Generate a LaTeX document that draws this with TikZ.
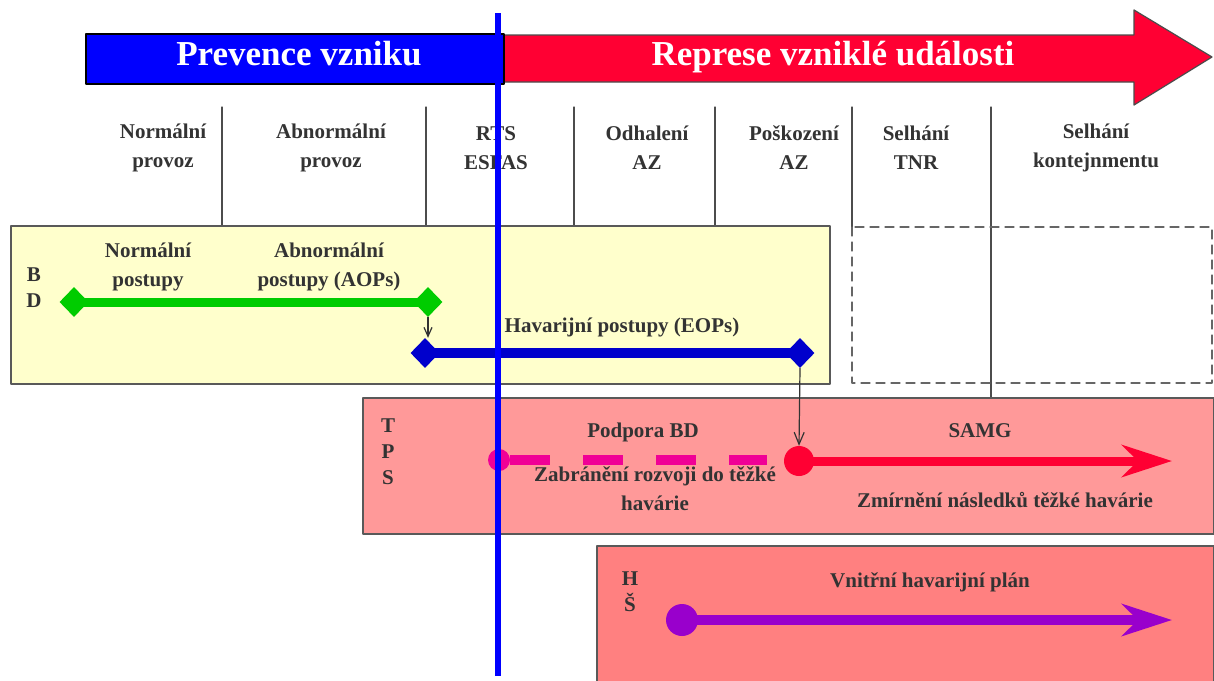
\documentclass[tikz,border=0pt]{standalone}
\usepackage{fontspec}
\setmainfont{Liberation Serif}
\usetikzlibrary{arrows.meta,shapes.geometric}

\definecolor{prevmodra}{RGB}{0,0,255}
\definecolor{represe}{RGB}{255,0,51}
\definecolor{bdzluta}{RGB}{255,255,204}
\definecolor{tpsruzova}{RGB}{255,153,153}
\definecolor{hsruzova}{RGB}{255,128,128}
\definecolor{aopzelena}{RGB}{0,204,0}
\definecolor{eopmodra}{RGB}{0,0,204}
\definecolor{podpora}{RGB}{240,0,150}
\definecolor{hsfialova}{RGB}{153,0,204}

\begin{document}
\begin{tikzpicture}[x=1pt, y=-1pt, line cap=round, line join=round,
    popis/.style={font=\bfseries\fontsize{21}{29}\selectfont, text=black!80, align=center, inner sep=0pt},
    pismena/.style={font=\bfseries\fontsize{21}{26}\selectfont, text=black!80, align=center, inner sep=0pt},
    titulek/.style={font=\bfseries\fontsize{35}{40}\selectfont, text=white, inner sep=0pt, anchor=base},
    pole/.style={draw=black!65, line width=1.5pt, anchor=north west, inner sep=0pt},
    kosoctverec/.style={diamond, fill=#1, inner sep=0pt, minimum width=29pt, minimum height=30pt},
    tecka/.style={circle, fill=#1, inner sep=0pt, minimum size=30pt}]

  \useasboundingbox (0,0) rectangle (1214,680);
  \fill[white] (0,0) rectangle (1214,680);

  % --- HORNI SIPKA: PREVENCE / REPRESE ---
  \draw[fill=represe, draw=black!70, line width=1.2pt]
    (503,35) -- (1134,35) -- (1134,10) -- (1212,57) -- (1134,105) -- (1134,82) -- (503,82) -- cycle;
  \node[pole, draw=black, fill=prevmodra, minimum width=418pt, minimum height=50pt] (prev) at (85,33) {};
  \node[titulek] (prevtext) at (299,65) {Prevence vzniku};
  \node[titulek] (reptext) at (833,65) {Represe vzniklé události};

  % --- SLOUPCE SE STAVY ---
  \foreach \xx in {222,426,574,715}
    \draw[black!70, line width=1.2pt] (\xx,107) -- (\xx,225);
  \draw[black!70, line width=1.2pt] (852,107) -- (852,227);
  \draw[black!70, line width=1.2pt] (991,107) -- (991,397);
  \foreach \xx/\txt [count=\i] in {163/{Normální\\provoz}, 331/{Abnormální\\provoz},
      496/{RTS\\ESFAS}, 647/{Odhalení\\AZ}, 794/{Poškození\\AZ},
      916/{Selhání\\TNR}, 1096/{Selhání\\kontejnmentu}}
    \node[popis] (stav\i) at (\xx,148) {\txt};

  % --- BD: BEZPECNOSTNI DOKUMENTACE ---
  \node[pole, fill=bdzluta, minimum width=819pt, minimum height=158pt] (bd) at (10,225) {};
  \draw[black!60, line width=1.2pt, dashed, dash pattern=on 9pt off 6pt]
    (852,227) rectangle (1212,383);
  \node[pismena] (bdlbl) at (34,288) {B\\D};
  \node[popis] (normtext) at (148,267) {Normální\\postupy};
  \node[popis] (abntext) at (329,267) {Abnormální\\postupy (AOPs)};
  \node[popis, anchor=base] (eoptext) at (622,332) {Havarijní postupy (EOPs)};

  \node[kosoctverec=aopzelena] (aop1) at (74,302) {};
  \node[kosoctverec=aopzelena] (aop2) at (428,302) {};
  \draw[aopzelena, line width=9pt, line cap=butt] (aop1.center) -- (aop2.center);

  \node[kosoctverec=eopmodra] (eop1) at (425,353) {};
  \node[kosoctverec=eopmodra] (eop2) at (800,353) {};
  \draw[eopmodra, line width=10pt, line cap=butt] (eop1.center) -- (eop2.center);

  \draw[black!80, line width=1.2pt, -{Straight Barb[length=9pt, width=8pt]}]
    (aop2.south) -- (aop2.south |- eop1.north);

  % --- TPS ---
  \node[pole, fill=tpsruzova, minimum width=851pt, minimum height=136pt] (tps) at (362,397) {};
  \node[pismena] (tpslbl) at (388,452) {T\\P\\S};
  \node[popis, anchor=base] (podtext) at (643,437) {Podpora BD};
  \node[popis, anchor=base] (samgtext) at (980,437) {SAMG};
  \node[popis] (zabtext) at (655,489) {Zabránění rozvoji do těžké\\havárie};
  \node[popis, anchor=base] (zmirtext) at (1005,507) {Zmírnění následků těžké havárie};

  \node[tecka=podpora, minimum size=22pt] (pod1) at (499,460) {};
  \coordinate (pod2) at (767,460);
  \draw[podpora, line width=10pt, line cap=butt, dash pattern=on 40pt off 33pt]
    (pod1.east) -- (pod2);

  \node[tecka=represe] (samg1) at (799,461) {};
  \coordinate (samg2) at (1172,461);
  \draw[represe, line width=9pt, line cap=butt,
    -{Stealth[length=50pt, width=32pt, inset=16pt]}] (samg1.center) -- (samg2);

  \draw[black!80, line width=1.2pt, -{Straight Barb[length=12pt, width=10pt]}]
    (eop2.south) -- (samg1.north);

  % --- HS: HAVARIJNI STAV ---
  \node[pole, fill=hsruzova, minimum width=617pt, minimum height=140pt] (hs) at (596,545) {};
  \node[pismena] (hslbl) at (630,592) {H\\Š};
  \node[popis, anchor=base] (vhptext) at (930,587) {Vnitřní havarijní plán};

  \node[tecka=hsfialova, minimum size=32pt] (vhp1) at (682,620) {};
  \coordinate (vhp2) at (1172,620);
  \draw[hsfialova, line width=10pt, line cap=butt,
    -{Stealth[length=50pt, width=32pt, inset=16pt]}] (vhp1.center) -- (vhp2);

  % --- HRANICE PREVENCE / REPRESE ---
  \draw[prevmodra, line width=5.5pt, line cap=butt] (498,13) -- (498,676);

\end{tikzpicture}
\end{document}
